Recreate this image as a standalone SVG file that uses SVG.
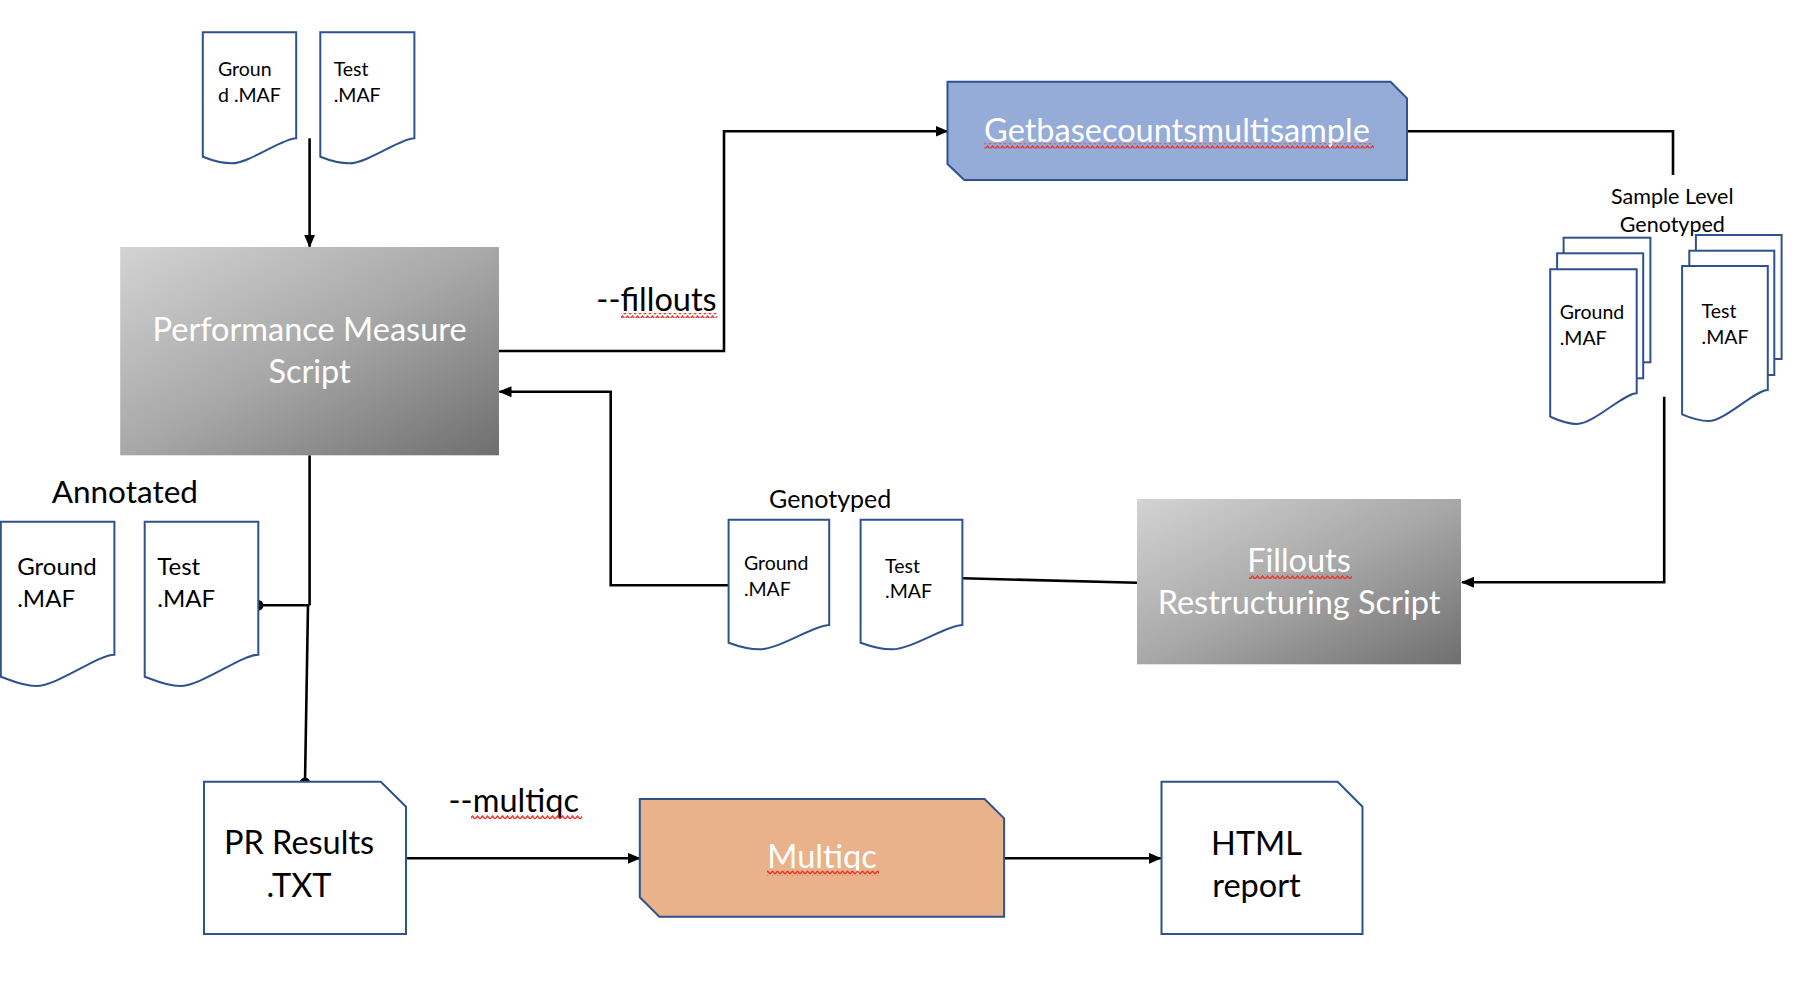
<svg xmlns="http://www.w3.org/2000/svg" width="1806" height="984" viewBox="0 0 1806 984">
<style>
text{font-family:Lato,"Open Sans","Liberation Sans",sans-serif;fill:#000}
.w{fill:#fff}
.doc{fill:#fff;stroke:#2f528f;stroke-width:2}
.con{fill:none;stroke:#000;stroke-width:2.6}
.big{font-size:32.5px}
.sm{font-size:19.5px}
.md{font-size:24px}
.mid{text-anchor:middle}
.sq{fill:url(#sq)}
</style>
<defs>
<linearGradient id="gray" x1="0" y1="0" x2="1" y2="1">
<stop offset="0" stop-color="#d3d3d3"/>
<stop offset="0.5" stop-color="#a8a8a8"/>
<stop offset="1" stop-color="#6f6f6f"/>
</linearGradient>
<marker id="ah" markerUnits="userSpaceOnUse" markerWidth="13" markerHeight="11" refX="12" refY="5.5" orient="auto">
<path d="M0,0 L13,5.5 L0,11 Z" fill="#000"/>
</marker>
<pattern id="sq" width="5" height="5" patternUnits="userSpaceOnUse">
<path d="M0,4 L2.5,1 L5,4" fill="none" stroke="#e8322c" stroke-width="1.4"/>
</pattern>
</defs>

<g id="connectors">
<path class="con" d="M309.6,138.3 V246.7" marker-end="url(#ah)"/>
<path class="con" d="M499,351 H724 V131.3 H947.5" marker-end="url(#ah)"/>
<path class="con" d="M1407,131.3 H1673 V175"/>
<path class="con" d="M1664.2,396.7 V582.3 H1462" marker-end="url(#ah)"/>
<path class="con" d="M962.4,578.3 L1137,582.7"/>
<path class="con" d="M728.6,585.3 H610.7 V391.7 H499.5" marker-end="url(#ah)"/>
<path class="con" d="M309.6,455.3 V605.3 M258.3,605.3 H309.6 M308,605.3 L305,782.7"/>
<circle cx="258.3" cy="605.3" r="5.2" fill="#000"/>
<circle cx="305" cy="782.7" r="5.2" fill="#000"/>
<path class="con" d="M406,858.3 H639.8" marker-end="url(#ah)"/>
<path class="con" d="M1004.1,858.3 H1160.7" marker-end="url(#ah)"/>
</g>

<g id="input-ground">
<path class="doc" d="M202.8,32.3 H296.2 V138.3 C282.2,138.3 249.5,163.3 231.8,163.3 C219.6,163.3 210.3,159.7 202.8,156.7 Z"/>
<text class="sm" x="218" y="76">Groun</text>
<text class="sm" x="218" y="101.7">d .MAF</text>
</g>
<g id="input-test">
<path class="doc" d="M320.3,32.3 H414.4 V138.3 C400.3,138.3 367.4,163.3 349.5,163.3 C337.2,163.3 327.8,159.7 320.3,156.7 Z"/>
<text class="sm" x="333.7" y="76">Test</text>
<text class="sm" x="333.7" y="101.7">.MAF</text>
</g>

<g id="performance-measure">
<rect x="120.2" y="247" width="378.8" height="208.3" fill="url(#gray)"/>
<text class="big w mid" x="309.6" y="341">Performance Measure</text>
<text class="big w mid" x="309.6" y="383">Script</text>
</g>

<g id="fillouts-label">
<text class="big" x="716.7" y="311" text-anchor="end">--fillouts</text>
<rect class="sq" x="621" y="313" width="96" height="5"/>
</g>

<g id="getbasecounts">
<path d="M947.5,81.7 H1390.6 L1407,98.3 V180 H964.3 L947.5,164 Z" fill="#95abd8" stroke="#2f528f" stroke-width="2"/>
<text class="big w mid" x="1177" y="141.7">Getbasecountsmultisample</text>
<rect class="sq" x="984" y="143.5" width="390" height="5"/>
</g>

<g id="sample-level-label">
<text class="mid" style="font-size:21.5px" x="1672.3" y="204">Sample Level</text>
</g>

<g id="sample-ground-stack">
<rect class="doc" x="1563.6" y="237.7" width="86.8" height="124.6"/>
<rect class="doc" x="1557.1" y="253.3" width="86.1" height="125"/>
<path class="doc" d="M1550.2,269.3 H1636.7 V393.3 C1623.7,393.3 1593.5,424 1577,424 C1565.8,424 1557.1,419.7 1550.2,416.7 Z"/>
<text class="sm" x="1559.7" y="319">Ground</text>
<text class="sm" x="1559.7" y="345">.MAF</text>
</g>
<g id="sample-test-stack">
<rect class="doc" x="1695.9" y="235" width="85.7" height="124"/>
<rect class="doc" x="1689.3" y="250.7" width="85" height="124.3"/>
<path class="doc" d="M1682.1,266 H1767.8 V390 C1755,390 1725,421 1708.7,421 C1697.5,421 1689,417.3 1682.1,414.3 Z"/>
<text class="sm" x="1701.6" y="318.3">Test</text>
<text class="sm" x="1701.6" y="344">.MAF</text>
</g>
<g id="sample-genotyped-label">
<text class="mid" style="font-size:21.5px" x="1672.3" y="231.7">Genotyped</text>
</g>

<g id="annotated-label">
<text style="font-size:31.5px" x="51.7" y="503.3">Annotated</text>
</g>
<g id="annotated-ground">
<path class="doc" d="M0.8,521.7 H114.4 V654.7 C97.4,654.7 57.6,686 36,686 C21.2,686 9.9,679.7 0.8,676.7 Z"/>
<text class="md" x="17.2" y="575">Ground</text>
<text class="md" x="17.2" y="606.7">.MAF</text>
</g>
<g id="annotated-test">
<path class="doc" d="M144.7,521.7 H258.3 V654.7 C241.3,654.7 201.5,686 179.9,686 C165.1,686 153.8,679.7 144.7,676.7 Z"/>
<text class="md" x="157.3" y="575">Test</text>
<text class="md" x="157.3" y="606.7">.MAF</text>
</g>

<g id="genotyped-label">
<text class="mid" style="font-size:25px" x="830.2" y="508.3">Genotyped</text>
</g>
<g id="genotyped-ground">
<path class="doc" d="M728.6,519.7 H829.2 V625 C814.1,625 778.9,649.3 759.8,649.3 C746.7,649.3 736.6,645.7 728.6,642.7 Z"/>
<text class="sm" x="743.9" y="570">Ground</text>
<text class="sm" x="743.9" y="596">.MAF</text>
</g>
<g id="genotyped-test">
<path class="doc" d="M860.6,519.7 H962.4 V625 C947.1,625 911.5,649.3 892.2,649.3 C878.9,649.3 868.7,645.7 860.6,642.7 Z"/>
<text class="sm" x="885.1" y="572.7">Test</text>
<text class="sm" x="885.1" y="598.3">.MAF</text>
</g>

<g id="fillouts-restructuring">
<rect x="1137" y="499" width="324" height="165.3" fill="url(#gray)"/>
<text class="big w mid" x="1299" y="572">Fillouts</text>
<rect class="sq" x="1249" y="574" width="103" height="5"/>
<text class="big w mid" x="1299" y="614">Restructuring Script</text>
</g>

<g id="pr-results">
<path class="doc" d="M204,781.7 H380.8 L406,806.7 V934 H204 Z"/>
<text class="big mid" x="299" y="854.3">PR Results</text>
<text class="big mid" x="299" y="896.7">.TXT</text>
</g>

<g id="multiqc-label">
<text class="big" x="448.5" y="811.7">--multiqc</text>
<rect class="sq" x="471" y="814.5" width="111" height="5"/>
</g>

<g id="multiqc">
<path d="M639.8,799 H984.6 L1004.1,818.3 V916.7 H659.3 L639.8,897.3 Z" fill="#e9b28a" stroke="#2f528f" stroke-width="2"/>
<text class="big w mid" x="822" y="867.7">Multiqc</text>
<rect class="sq" x="767" y="870.5" width="112" height="5"/>
</g>

<g id="html-report">
<path class="doc" d="M1161.5,781.7 H1337.6 L1362.5,806.7 V934 H1161.5 Z"/>
<text class="big mid" x="1256.5" y="855">HTML</text>
<text class="big mid" x="1256.5" y="896.7">report</text>
</g>
</svg>
